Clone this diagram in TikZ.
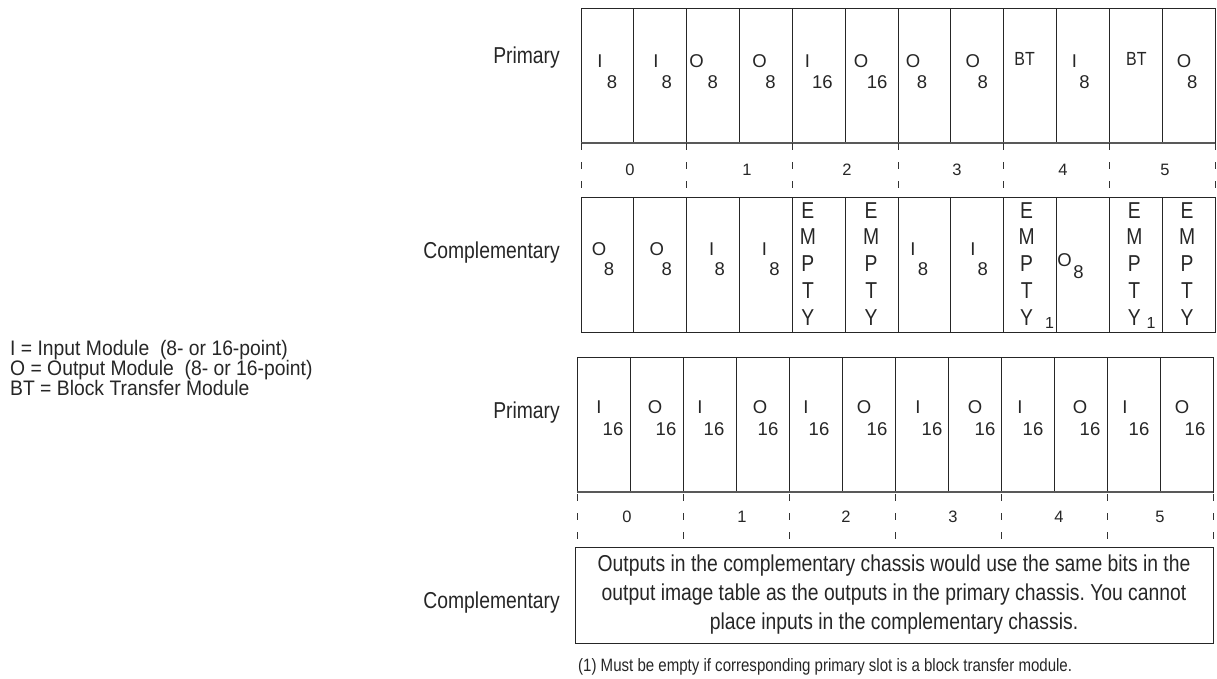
\documentclass[tikz,border=0pt]{standalone}
\usepackage{fontspec}
\setmainfont{Liberation Sans}
\newfontfamily\cond{Liberation Sans}[FakeStretch=0.84]
\newfontfamily\condkey{Liberation Sans}[FakeStretch=0.92]
\frenchspacing
\begin{document}
\begin{tikzpicture}[x=1pt,y=-1pt,
  slotbox/.style={draw=black!85, line width=0.9pt, minimum height=135pt,
    inner sep=0pt, outer sep=0pt, anchor=north west},
  topslot/.style={slotbox, minimum width=52.83pt},
  lowslot/.style={slotbox, minimum width=53pt},
  floorline/.style={draw=black!65, line width=1.7pt},
  tick/.style={draw=black!80, line width=0.9pt, dash pattern=on 7pt off 12pt},
  modtxt/.style={font=\fontsize{18.5}{18.5}\selectfont, text=black!85, inner sep=0pt, anchor=base},
  bttxt/.style={font=\cond\fontsize{19}{19}\selectfont, text=black!85, inner sep=0pt, anchor=base},
  emptytxt/.style={font=\cond\fontsize{23}{23}\selectfont, text=black!85, inner sep=0pt, anchor=base},
  supone/.style={font=\fontsize{16}{16}\selectfont, text=black!85, inner sep=0pt, anchor=base},
  grplab/.style={font=\fontsize{16.5}{16.5}\selectfont, text=black!85, inner sep=0pt, anchor=base},
  rowlab/.style={font=\cond\fontsize{23}{23}\selectfont, text=black!85, inner sep=0pt, anchor=base east},
  keytxt/.style={font=\condkey\fontsize{21}{21}\selectfont, text=black!85, inner sep=0pt, anchor=base west},
  notebox/.style={draw=black!85, line width=0.9pt, minimum width=638pt, minimum height=96pt,
    inner sep=0pt, align=center, text=black!85,
    font=\cond\fontsize{23}{29}\selectfont},
  foot/.style={font=\cond\fontsize{17.9}{17.9}\selectfont, text=black!85, inner sep=0pt, anchor=base west}
]
\useasboundingbox (0,0) rectangle (1217,678);

% ---------- key ----------
\node[keytxt] (key1) at (10,355) {I = Input Module\ \ (8- or 16-point)};
\node[keytxt] (key2) at (10,375) {O = Output Module\ \ (8- or 16-point)};
\node[keytxt] (key3) at (10,395) {BT = Block Transfer Module};

% ---------- row labels ----------
\node[rowlab] (lprimA) at (560,63) {Primary};
\node[rowlab] (lcompA) at (560,258) {Complementary};
\node[rowlab] (lprimB) at (560,418) {Primary};
\node[rowlab] (lcompB) at (560,608) {Complementary};

% ---------- first example: primary chassis ----------
\foreach \k in {0,...,11}
  \node[topslot] (pa\k) at ({581+\k*52.83},8) {};
\draw[floorline] (pa0.south west) -- (pa11.south east);
\foreach \k/\t/\a/\n/\b in {1/I/19/8/31, 2/I/22/8/33, 3/O/10/8/26, 4/O/20/8/31,
    5/I/15/16/30, 6/O/16/16/32, 7/O/15/8/24, 8/O/22/8/32, 10/I/18/8/28, 12/O/22/8/30}{
  \node[modtxt] (pat\k) at ({581+(\k-1)*52.83+\a},67) {\t};
  \node[modtxt] (pan\k) at ({581+(\k-1)*52.83+\b},88) {\n};
}
\node[bttxt] (pat9) at ({581+8*52.83+21},65) {BT};
\node[bttxt] (pat11) at ({581+10*52.83+27},65) {BT};

% group ruler
\foreach \g in {0,...,6}
  \draw[tick] ({581+\g*105.67},143) -- ++(0,47);
\foreach \g/\x in {0/630, 1/747, 2/847, 3/957, 4/1063, 5/1165}
  \node[grplab] (ga\g) at (\x,175) {\g};

% ---------- first example: complementary chassis ----------
\foreach \k in {0,...,11}
  \node[topslot] (ca\k) at ({581+\k*52.83},197) {};
\foreach \k/\t/\a/\n/\b in {1/O/18/8/28, 2/O/23/8/33, 3/I/25/8/33, 4/I/25/8/35,
    7/I/15/8/25, 8/I/22/8/32}{
  \node[modtxt] (cat\k) at ({581+(\k-1)*52.83+\a},255) {\t};
  \node[modtxt] (can\k) at ({581+(\k-1)*52.83+\b},275) {\n};
}
\node[modtxt] (cat10) at ({581+9*52.83+8},266) {O};
\node[modtxt] (can10) at ({581+9*52.83+22},278) {8};
\foreach \k/\a in {5/15.6, 6/26, 9/23, 11/25, 12/25}
  \foreach \c [count=\j] in {E,M,P,T,Y}
    \node[emptytxt] (ce\k-\j) at ({581+(\k-1)*52.83+\a},{218+(\j-1)*26.75}) {\c};
\node[supone] (cs9) at ({581+8*52.83+46},328) {1};
\node[supone] (cs11) at ({581+10*52.83+41.7},328) {1};

% ---------- second example: primary chassis ----------
\foreach \k in {0,...,11}
  \node[lowslot] (pb\k) at ({577+\k*53},357) {};
\draw[floorline] (pb0.south west) -- (pb11.south east);
\foreach \k/\t/\a/\n/\b in {1/I/22/16/36, 2/O/25/16/36, 3/I/17/16/31, 4/O/24/16/32,
    5/I/17/16/30, 6/O/22/16/35, 7/I/23/16/37, 8/O/27/16/37, 9/I/19/16/32,
    10/O/26/16/36, 11/I/18/16/32, 12/O/22/16/35}{
  \node[modtxt] (pbt\k) at ({577+(\k-1)*53+\a},413) {\t};
  \node[modtxt] (pbn\k) at ({577+(\k-1)*53+\b},435) {\n};
}

% group ruler
\foreach \g in {0,...,6}
  \draw[tick] ({577+\g*106},494) -- ++(0,45);
\foreach \g/\x in {0/627, 1/742, 2/846, 3/953, 4/1059, 5/1160}
  \node[grplab] (gb\g) at (\x,522) {\g};

% ---------- second example: complementary chassis note ----------
\node[notebox] (note) at (894,595)
  {Outputs in the complementary chassis would use the same bits in the\\
   output image table as the outputs in the primary chassis. You cannot\\
   place inputs in the complementary chassis.};

% ---------- footnote ----------
\node[foot] (fn) at (578,671)
  {(1) Must be empty if corresponding primary slot is a block transfer module.};
\end{tikzpicture}
\end{document}
